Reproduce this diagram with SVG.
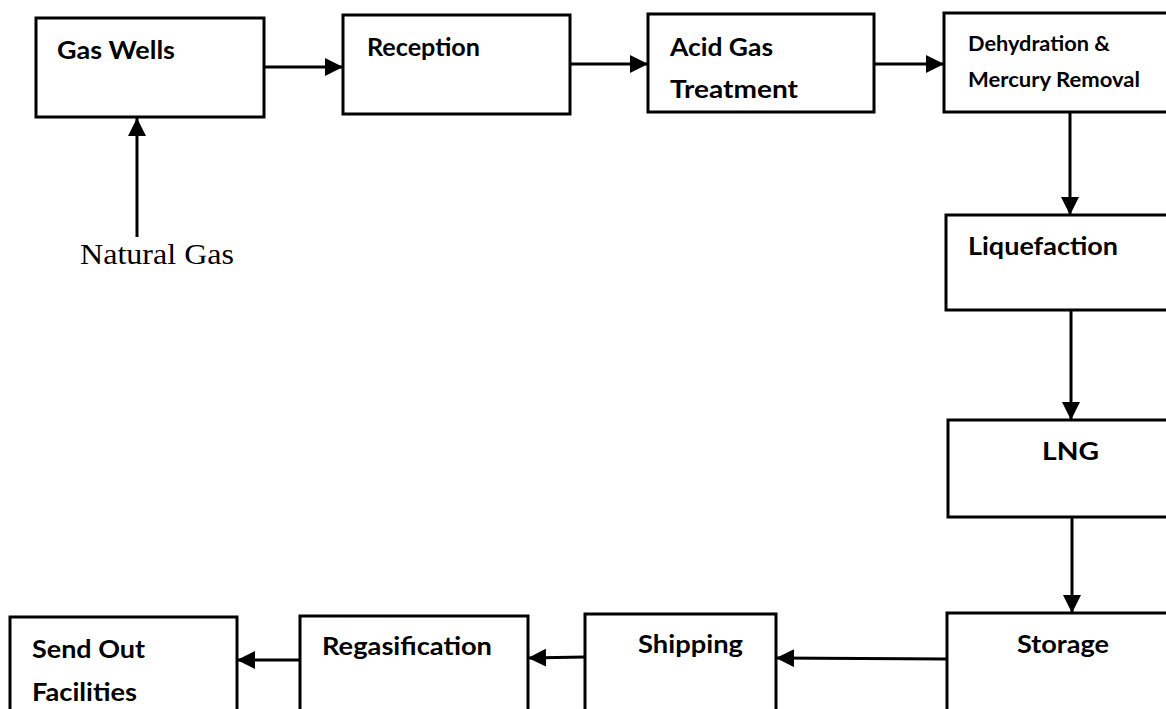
<svg xmlns="http://www.w3.org/2000/svg" width="1166" height="709" viewBox="0 0 1166 709">
<style>
.box{fill:#fff;stroke:#000;stroke-width:3}
.t{font-family:Lato,"Open Sans","Liberation Sans",sans-serif;font-weight:700;font-size:25px;fill:#000}
.s{font-size:20px}
.n{font-family:"Liberation Serif",serif;font-size:30px;fill:#000}
.c{stroke:#000;stroke-width:3;fill:none;marker-end:url(#ah)}
</style>
<defs>
<marker id="ah" viewBox="0 0 10 10" refX="10" refY="5" markerWidth="6" markerHeight="6" orient="auto" markerUnits="strokeWidth">
<path d="M0,0 L10,5 L0,10 z" fill="#000"/>
</marker>
</defs>
<rect width="1166" height="709" fill="#fff"/>
<g id="connectors">
<line class="c" x1="264" y1="67" x2="343" y2="67"/>
<line class="c" x1="570" y1="64" x2="648" y2="64"/>
<line class="c" x1="874" y1="64" x2="944" y2="64"/>
<line class="c" x1="1070" y1="112" x2="1070" y2="215"/>
<line class="c" x1="1071" y1="310" x2="1071" y2="420"/>
<line class="c" x1="1072" y1="517" x2="1072" y2="613"/>
<line class="c" x1="947" y1="659" x2="776" y2="658"/>
<line class="c" x1="585" y1="657" x2="528" y2="658"/>
<line class="c" x1="300" y1="660" x2="237" y2="660"/>
<line class="c" x1="137" y1="237" x2="137" y2="118"/>
</g>
<g id="gas-wells"><rect class="box" x="36" y="18" width="228" height="99"/><text class="t" x="57" y="59" textLength="118" lengthAdjust="spacingAndGlyphs">Gas Wells</text></g>
<g id="reception"><rect class="box" x="343" y="15" width="227" height="99"/><text class="t" x="367" y="56" textLength="113" lengthAdjust="spacingAndGlyphs">Reception</text></g>
<g id="acid-gas"><rect class="box" x="648" y="14" width="226" height="98"/><text class="t" x="670" y="56" textLength="103" lengthAdjust="spacingAndGlyphs">Acid Gas</text><text class="t" x="670" y="98" textLength="128" lengthAdjust="spacingAndGlyphs">Treatment</text></g>
<g id="dehydration"><rect class="box" x="944" y="13" width="230" height="99"/><text class="t s" x="968" y="51" textLength="142" lengthAdjust="spacingAndGlyphs">Dehydration &amp;</text><text class="t s" x="968" y="87" textLength="172" lengthAdjust="spacingAndGlyphs">Mercury Removal</text></g>
<g id="liquefaction"><rect class="box" x="946" y="215" width="230" height="95"/><text class="t" x="968" y="255" textLength="150" lengthAdjust="spacingAndGlyphs">Liquefaction</text></g>
<g id="lng"><rect class="box" x="948" y="420" width="230" height="97"/><text class="t" x="1042" y="460" textLength="57" lengthAdjust="spacingAndGlyphs">LNG</text></g>
<g id="storage"><rect class="box" x="947" y="613" width="230" height="100"/><text class="t" x="1017" y="653" textLength="92" lengthAdjust="spacingAndGlyphs">Storage</text></g>
<g id="shipping"><rect class="box" x="585" y="614" width="191" height="99"/><text class="t" x="638" y="653" textLength="105" lengthAdjust="spacingAndGlyphs">Shipping</text></g>
<g id="regasification"><rect class="box" x="300" y="616" width="228" height="97"/><text class="t" x="322" y="655" textLength="170" lengthAdjust="spacingAndGlyphs">Regasification</text></g>
<g id="send-out"><rect class="box" x="10" y="617" width="227" height="96"/><text class="t" x="32" y="658" textLength="113" lengthAdjust="spacingAndGlyphs">Send Out</text><text class="t" x="32" y="701" textLength="105" lengthAdjust="spacingAndGlyphs">Facilities</text></g>
<g id="natural-gas"><text class="n" x="80" y="264" textLength="154" lengthAdjust="spacingAndGlyphs">Natural Gas</text></g>
</svg>
